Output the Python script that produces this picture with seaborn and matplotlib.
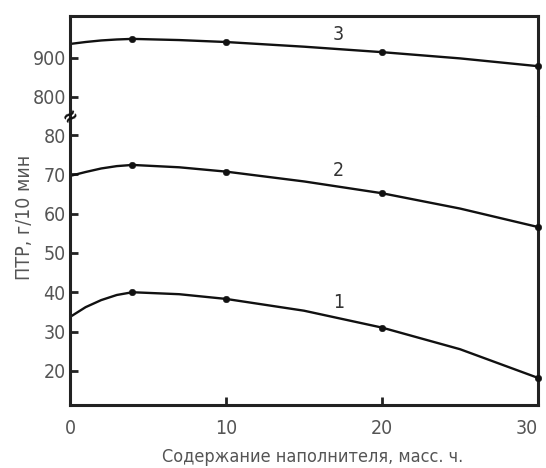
import numpy as np
import pandas as pd
import matplotlib
matplotlib.use("Agg")
import matplotlib.pyplot as plt
import seaborn as sns

# filler content, mass parts
x_vals = [0, 1, 2, 3, 4, 7, 10, 15, 20, 25, 30]
marker_x = [4, 10, 20, 30]

# melt flow index, g/10 min
curve1 = [33.7, 36.2, 38.0, 39.3, 40.0, 39.5, 38.3, 35.3, 31.0, 25.5, 18.2]
curve2 = [69.6, 70.6, 71.5, 72.1, 72.4, 71.8, 70.7, 68.2, 65.2, 61.3, 56.6]
curve3 = [936, 941, 945, 947.5, 949, 946, 941, 929, 915, 899, 879]

curve_labels = ["1", "2", "3"]
label_pos = [(17.2, 37.5), (17.2, 71.1), (17.2, 959)]

x_ticks = [0, 10, 20, 30]
low_ticks = [20, 30, 40, 50, 60, 70, 80]
high_ticks = [800, 900]

df = pd.DataFrame({"x": x_vals, "c1": curve1, "c2": curve2, "c3": curve3})
df_m = df[df["x"].isin(marker_x)]

sns.set_style("ticks")
plt.rcParams["font.family"] = ["DejaVu Sans"]
plt.rcParams["font.stretch"] = "condensed"
ink = "#111111"
grey = "#555555"

fig = plt.figure(figsize=(5.46, 4.68), dpi=100)
gs = fig.add_gridspec(2, 1, height_ratios=[101, 288], hspace=0,
                      left=70 / 546, right=538 / 546, top=1 - 16 / 468, bottom=1 - 405 / 468)
ax_hi = fig.add_subplot(gs[0])
ax_lo = fig.add_subplot(gs[1], sharex=ax_hi)

for col in ["c1", "c2"]:
    sns.lineplot(data=df, x="x", y=col, ax=ax_lo, color=ink, lw=1.7)
    sns.scatterplot(data=df_m, x="x", y=col, ax=ax_lo, color=ink, s=22,
                    edgecolor=ink, zorder=5, clip_on=False)
sns.lineplot(data=df, x="x", y="c3", ax=ax_hi, color=ink, lw=1.7)
sns.scatterplot(data=df_m, x="x", y="c3", ax=ax_hi, color=ink, s=22,
                edgecolor=ink, zorder=5, clip_on=False)

ax_lo.set_xlim(0, 30)
ax_lo.set_ylim(11.3, 84.6)
ax_hi.set_ylim(748.7, 1007.7)

ax_lo.set_xticks(x_ticks)
ax_lo.set_yticks(low_ticks)
ax_hi.set_yticks(high_ticks)

for ax in (ax_hi, ax_lo):
    ax.set_xlabel("")
    ax.set_ylabel("")
    for side in ["left", "right", "top", "bottom"]:
        ax.spines[side].set_linewidth(2.2)
        ax.spines[side].set_color("#222222")
    ax.tick_params(direction="in", length=6, width=2, color="#222222",
                   labelsize=14, labelcolor=grey, pad=3)

ax_hi.spines["bottom"].set_visible(False)
ax_lo.spines["top"].set_visible(False)
ax_hi.tick_params(axis="x", bottom=False, labelbottom=False)
ax_lo.tick_params(axis="x", pad=10)
# keep the last x tick label inside the canvas
ax_lo.get_xticklabels()[-1].set_horizontalalignment("right")

for (lx, ly), txt, ax in zip(label_pos, curve_labels, [ax_lo, ax_lo, ax_hi]):
    ax.text(lx, ly, txt, fontsize=14, color="#333333", ha="center", va="center")

# axis break sign
fig.text(70 / 546, 1 - 117 / 468, "≈", fontsize=15, fontweight="bold", color=ink,
         ha="center", va="center", rotation=35, family="DejaVu Sans")

fig.text(25 / 546, 1 - 217 / 468, "ПТР, г/10 мин", rotation=90, fontsize=14,
         color=grey, ha="center", va="center")
fig.text(313 / 546, 1 - 457 / 468, "Содержание наполнителя, масс. ч.", fontsize=13,
         color=grey, ha="center", va="center")

fig.savefig("out.png", dpi=100)
